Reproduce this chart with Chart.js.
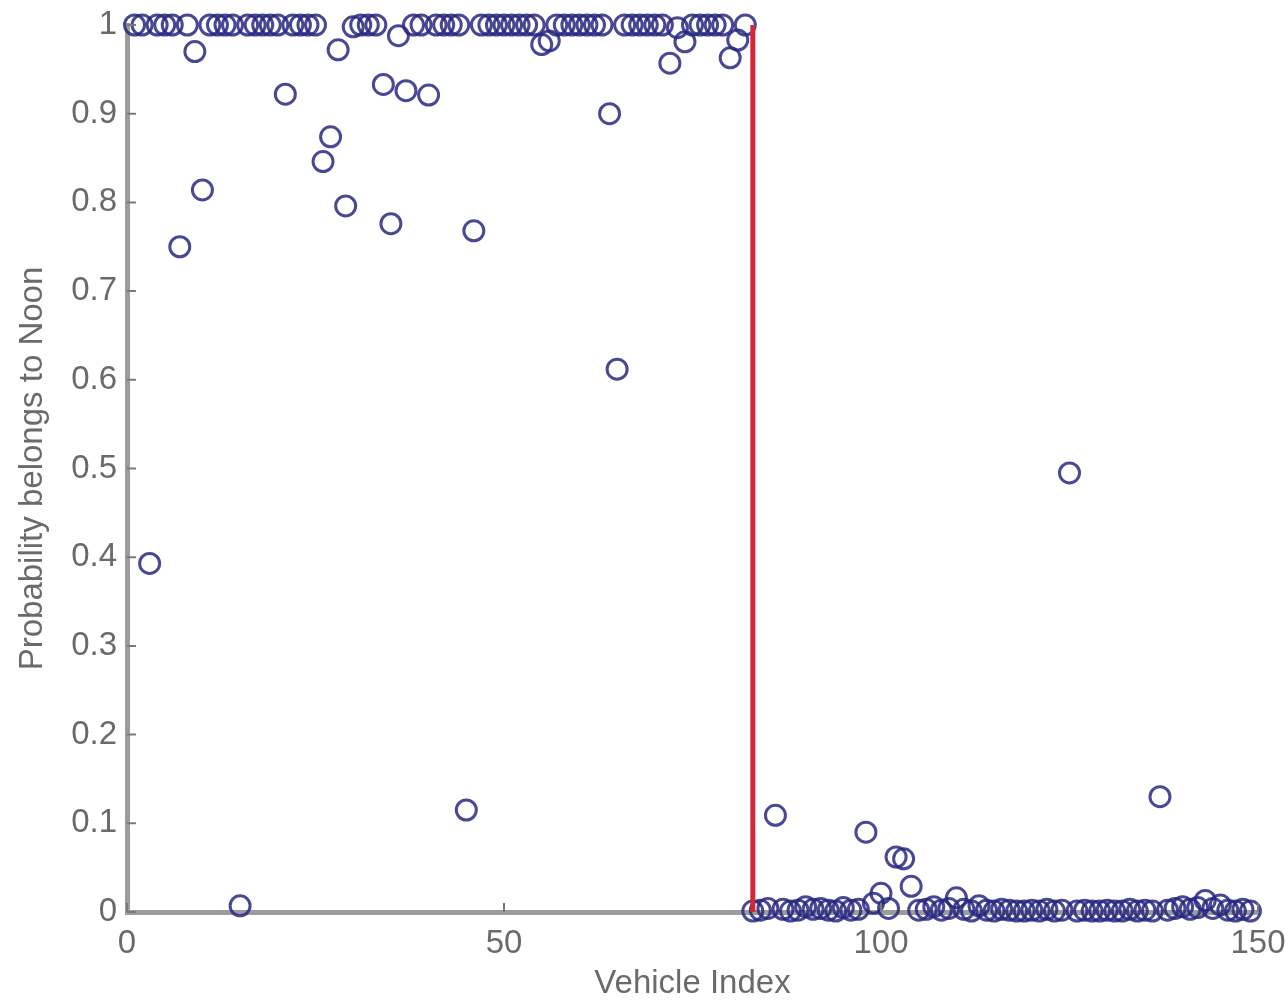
<!DOCTYPE html>
<html>
<head>
<meta charset="utf-8">
<title>Probability belongs to Noon</title>
<script src="https://cdn.jsdelivr.net/npm/chart.js@4/dist/chart.umd.min.js"></script>
<style>
  html, body { margin: 0; padding: 0; background: #fff; }
  #wrap { width: 1285px; height: 1004px; }
</style>
</head>
<body>
<div id="wrap"><canvas id="chart" width="1285" height="1004"></canvas></div>
<script>
// probability that vehicle i (1-based) belongs to the Noon class
const noonProbability = [
    1, 1, 0.393, 1, 1, 1, 0.75, 1, 0.97, 0.814,
    1, 1, 1, 1, 0.007, 1, 1, 1, 1, 1,
    0.922, 1, 1, 1, 1, 0.846, 0.874, 0.972, 0.796, 0.998,
    1, 1, 1, 0.933, 0.776, 0.988, 0.926, 1, 1, 0.921,
    1, 1, 1, 1, 0.115, 0.768, 1, 1, 1, 1,
    1, 1, 1, 1, 0.978, 0.982, 1, 1, 1, 1,
    1, 1, 1, 0.9, 0.612, 1, 1, 1, 1, 1,
    1, 0.957, 0.997, 0.981, 1, 1, 1, 1, 1, 0.963,
    0.983, 1, 0.001, 0.002, 0.004, 0.109, 0.003, 0.001, 0.002, 0.006,
    0.003, 0.004, 0.002, 0.001, 0.005, 0.002, 0.003, 0.09, 0.01, 0.021,
    0.004, 0.062, 0.06, 0.029, 0.002, 0.003, 0.006, 0.002, 0.004, 0.016,
    0.003, 0.001, 0.007, 0.002, 0.001, 0.003, 0.002, 0.001, 0.001, 0.002,
    0.001, 0.003, 0.001, 0.002, 0.495, 0.001, 0.002, 0.001, 0.001, 0.002,
    0.001, 0.001, 0.003, 0.001, 0.002, 0.001, 0.13, 0.002, 0.004, 0.006,
    0.003, 0.005, 0.013, 0.004, 0.008, 0.002, 0.001, 0.003, 0.001
];

// class boundary between Noon and the rest
const splitIndex = 83;

const xTickValues = [0, 50, 100, 150];
const yTickValues = [0, 0.1, 0.2, 0.3, 0.4, 0.5, 0.6, 0.7, 0.8, 0.9, 1];
const yTickLabels = ["0", "0.1", "0.2", "0.3", "0.4", "0.5", "0.6", "0.7", "0.8", "0.9", "1"];

const points = noonProbability.map((p, i) => ({ x: i + 1, y: p }));

const axisGray = "#9c9c9c";
const textGray = "#6a6a6a";
const font = { family: "'Liberation Sans', Arial, sans-serif", size: 33 };

// short inward tick marks, matlab style
const innerTicks = {
    id: "innerTicks",
    afterDraw(chart) {
        const { ctx, scales: { x, y } } = chart;
        ctx.save();
        ctx.strokeStyle = "#7a7a7a";
        ctx.lineWidth = 2;
        ctx.beginPath();
        yTickValues.forEach(v => {
            const py = y.getPixelForValue(v);
            ctx.moveTo(x.left, py);
            ctx.lineTo(x.left + 9, py);
        });
        xTickValues.forEach(v => {
            const px = x.getPixelForValue(v);
            ctx.moveTo(px, y.bottom);
            ctx.lineTo(px, y.bottom - 9);
        });
        ctx.stroke();
        ctx.restore();
    }
};

new Chart(document.getElementById("chart"), {
    type: "scatter",
    data: {
        datasets: [
            {
                label: "split",
                data: [{ x: splitIndex, y: 0 }, { x: splitIndex, y: 1 }],
                showLine: true,
                borderColor: "#d2283a",
                borderWidth: 5,
                pointRadius: 0,
                clip: false
            },
            {
                label: "Noon",
                data: points,
                pointStyle: "circle",
                pointRadius: 10,
                pointBorderWidth: 3,
                borderColor: "rgba(40, 40, 130, 0.85)",
                backgroundColor: "rgba(0, 0, 0, 0)",
                clip: false
            }
        ]
    },
    plugins: [innerTicks],
    options: {
        responsive: false,
        animation: false,
        events: [],
        layout: { padding: { top: 25, right: 27, left: 0, bottom: 0 } },
        plugins: {
            legend: { display: false },
            tooltip: { enabled: false }
        },
        scales: {
            x: {
                type: "linear",
                min: 0,
                max: 150,
                afterBuildTicks: s => { s.ticks = xTickValues.map(v => ({ value: v })); },
                afterFit: s => {
                    s.height = 92;
                    s.paddingLeft = 0;
                    s.paddingRight = 0;
                },
                grid: { display: true, drawOnChartArea: false, drawTicks: false },
                border: { display: true, color: axisGray, width: 5 },
                ticks: { color: textGray, font, padding: 12, maxRotation: 0 },
                title: {
                    display: true,
                    text: "Vehicle Index",
                    color: textGray,
                    font,
                    padding: { top: 0, bottom: 0 }
                }
            },
            y: {
                type: "linear",
                min: 0,
                max: 1,
                afterBuildTicks: s => { s.ticks = yTickValues.map(v => ({ value: v })); },
                afterFit: s => {
                    s.width = 127;
                    s.paddingTop = 0;
                    s.paddingBottom = 0;
                },
                grid: { display: true, drawOnChartArea: false, drawTicks: false },
                border: { display: true, color: axisGray, width: 5 },
                ticks: {
                    color: textGray,
                    font,
                    padding: 10,
                    callback: (v, i) => yTickLabels[i]
                },
                title: {
                    display: true,
                    text: "Probability belongs to Noon",
                    color: textGray,
                    font,
                    padding: { top: 13, bottom: 0 }
                }
            }
        }
    }
});
</script>
</body>
</html>
